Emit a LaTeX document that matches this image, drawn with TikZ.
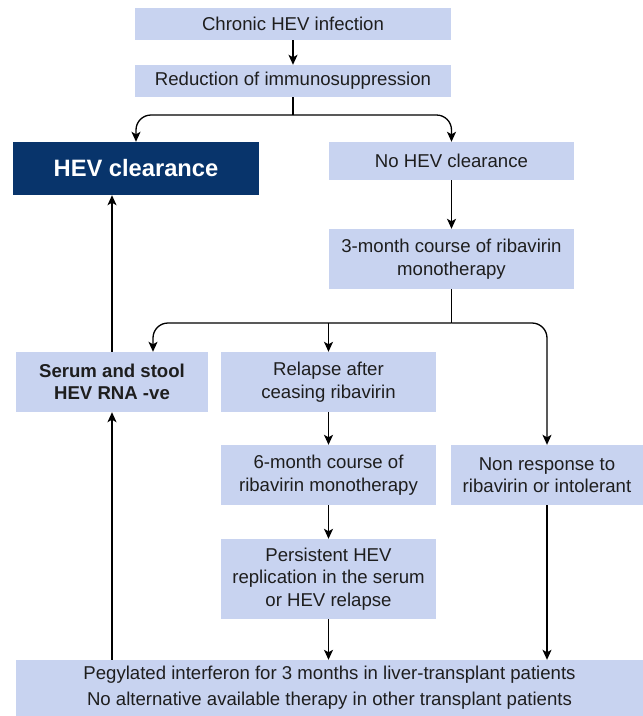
\documentclass[tikz,border=0pt]{standalone}
\usepackage{fontspec}
\setmainfont{Liberation Sans}
\usetikzlibrary{arrows.meta}
\definecolor{boxblue}{RGB}{200,211,240}
\definecolor{darkblue}{RGB}{8,52,107}
\definecolor{txtgrey}{RGB}{30,30,30}
\begin{document}
\begin{tikzpicture}[x=1pt,y=-1pt,
box/.style={fill=boxblue, text=txtgrey, align=center, inner sep=0pt,
  font=\fontsize{18.6}{22.5}\selectfont},
arr/.style={line width=1.3pt, -{Stealth[length=10pt,width=9pt,inset=2.5pt]}},
branch/.style={arr, rounded corners=15pt}]
\useasboundingbox (0,0) rectangle (643,716);
% boxes
\node[box, minimum width=316, minimum height=32] (inf) at (293,24) {Chronic HEV infection};
\node[box, minimum width=316, minimum height=32] (red) at (293,81) {Reduction of immunosuppression};
\node[box, minimum width=246, minimum height=53, fill=darkblue, text=white,
  font=\fontsize{23.7}{28}\selectfont\bfseries] (clr) at (136,168.5) {HEV clearance};
\node[box, minimum width=245, minimum height=38] (noclr) at (451.5,161) {No HEV clearance};
\node[box, minimum width=245, minimum height=60] (rib3) at (451.5,259) {3-month course of ribavirin\\monotherapy};
\node[box, minimum width=192, minimum height=60, font=\fontsize{18.6}{22.5}\selectfont\bfseries] (neg) at (112,382) {Serum and stool\\HEV RNA -ve};
\node[box, minimum width=215, minimum height=60] (rel) at (328.5,382) {Relapse after\\ceasing ribavirin};
\node[box, minimum width=215, minimum height=60] (rib6) at (328.5,475) {6-month course of\\ribavirin monotherapy};
\node[box, minimum width=192, minimum height=60] (nonr) at (547,475) {Non response to\\ribavirin or intolerant};
\node[box, minimum width=215, minimum height=80] (pers) at (328.5,579) {Persistent HEV\\replication in the serum\\or HEV relapse};
\node[box, minimum width=627, minimum height=56, font=\fontsize{18.6}{26}\selectfont] (peg) at (329.5,688) {Pegylated interferon for 3 months in liver-transplant patients\\No alternative available therapy in other transplant patients};
% connectors
\coordinate (s1) at (293,115);
\coordinate (s2) at (451.5,323);
\draw[arr] (inf) -- (red);
\draw[line width=1.3pt] (red) -- (s1);
\draw[branch] (s1) -| (clr.north);
\draw[branch] (s1) -| (noclr.north);
\draw[arr] (noclr) -- (rib3);
\draw[line width=1.3pt] (rib3) -- (s2);
\draw[branch] (s2) -| ([xshift=41pt]neg.north);
\draw[arr] (s2 -| rel.north) -- (rel.north);
\draw[branch] (s2) -| (nonr.north);
\draw[arr] (rel) -- (rib6);
\draw[arr] (rib6) -- (pers);
\draw[arr] (pers) -- (pers |- peg.north);
\draw[arr] (nonr) -- (nonr |- peg.north);
\draw[arr] (peg.north -| neg.south) -- (neg.south);
\draw[arr] (neg.north) -- (neg.north |- clr.south);
\end{tikzpicture}
\end{document}
